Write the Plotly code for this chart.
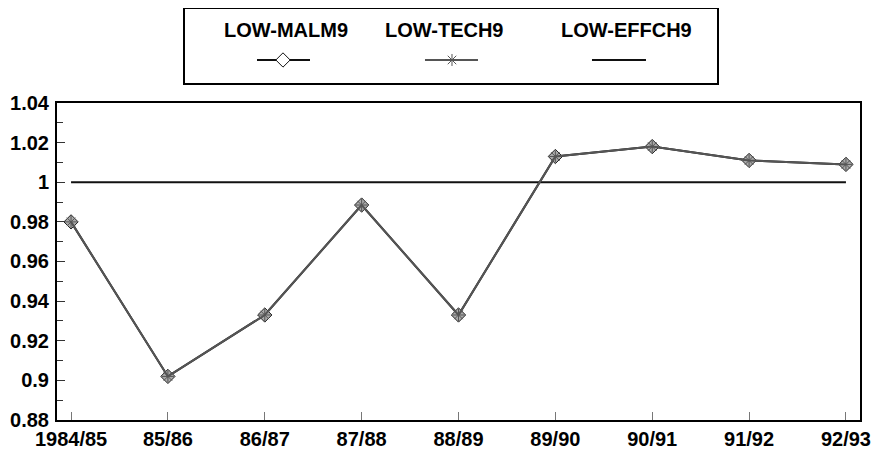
import plotly.graph_objects as go

categories = ["1984/85", "85/86", "86/87", "87/88", "88/89", "89/90", "90/91", "91/92", "92/93"]
low_malm9 = [0.980, 0.902, 0.933, 0.9885, 0.933, 1.013, 1.018, 1.011, 1.009]
low_tech9 = [0.980, 0.902, 0.933, 0.9885, 0.933, 1.013, 1.018, 1.011, 1.009]
low_effch9 = [1, 1, 1, 1, 1, 1, 1, 1, 1]
series_names = ["LOW-MALM9", "LOW-TECH9", "LOW-EFFCH9"]

FONT = "Liberation Sans, Arial, sans-serif"
xi = list(range(len(categories)))

fig = go.Figure()
fig.add_trace(go.Scatter(x=xi, y=low_effch9, mode="lines", line=dict(color="#111", width=2),
                         name=series_names[2], showlegend=False))
fig.add_trace(go.Scatter(x=xi, y=low_malm9, mode="lines+markers", line=dict(color="#111", width=2),
                         marker=dict(symbol="diamond", size=11, color="#aaa",
                                     line=dict(color="#222", width=1)),
                         name=series_names[0], showlegend=False))
fig.add_trace(go.Scatter(x=xi, y=low_tech9, mode="lines+markers", line=dict(color="#555", width=2),
                         marker=dict(symbol="asterisk-open", size=10, color="#555",
                                     line=dict(color="#555", width=1)),
                         name=series_names[1], showlegend=False))

# custom legend in its own small subplot (text above line samples); coordinates in page pixels
leg_text_x = [286, 444, 627]
for i, name in enumerate(series_names):
    fig.add_annotation(x=leg_text_x[i], y=30, xref="x2", yref="y2", text=name, showarrow=False,
                       font=dict(family=FONT, size=20, color="black", weight="bold"))
fig.add_trace(go.Scatter(x=[257, 310], y=[60, 60], xaxis="x2", yaxis="y2", mode="lines",
                         line=dict(color="#111", width=2), showlegend=False, hoverinfo="skip"))
fig.add_trace(go.Scatter(x=[283], y=[60], xaxis="x2", yaxis="y2", mode="markers",
                         marker=dict(symbol="diamond", size=11, color="white",
                                     line=dict(color="#111", width=1)),
                         showlegend=False, hoverinfo="skip"))
fig.add_trace(go.Scatter(x=[425, 478], y=[60, 60], xaxis="x2", yaxis="y2", mode="lines",
                         line=dict(color="#555", width=2), showlegend=False, hoverinfo="skip"))
fig.add_trace(go.Scatter(x=[452], y=[60], xaxis="x2", yaxis="y2", mode="markers",
                         marker=dict(symbol="asterisk-open", size=10, color="#555",
                                     line=dict(color="#555", width=1)),
                         showlegend=False, hoverinfo="skip"))
fig.add_trace(go.Scatter(x=[592, 646], y=[60, 60], xaxis="x2", yaxis="y2", mode="lines",
                         line=dict(color="#111", width=2), showlegend=False, hoverinfo="skip"))

# page body has an 8px margin, so the figure is 876x445 placed at (8,8)
fig.update_layout(
    width=876, height=445,
    margin=dict(l=49, r=24, t=1, b=33),
    paper_bgcolor="white", plot_bgcolor="white",
    font=dict(family=FONT, size=20, color="black"),
    showlegend=False,
    xaxis=dict(
        range=[-0.145, 8.145], tickmode="array", tickvals=xi, ticktext=categories,
        ticks="inside", ticklen=8, tickcolor="#777", tickwidth=1,
        showline=True, linecolor="black", linewidth=2, mirror=True,
        showgrid=False, zeroline=False, automargin=False,
        tickfont=dict(family=FONT, size=20, color="black", weight="bold"),
        domain=[0, 1], anchor="y",
    ),
    yaxis=dict(
        range=[0.88, 1.04], tickmode="array",
        tickvals=[0.88, 0.9, 0.92, 0.94, 0.96, 0.98, 1.0, 1.02, 1.04],
        ticktext=["0.88", "0.9", "0.92", "0.94", "0.96", "0.98", "1", "1.02", "1.04"],
        ticks="inside", ticklen=8, tickcolor="#333", tickwidth=1,
        minor=dict(ticks="inside", ticklen=6, tickcolor="#333", dtick=0.01, tick0=0.88, showgrid=False),
        showline=True, linecolor="black", linewidth=2, mirror=True,
        showgrid=False, zeroline=False, automargin=False,
        tickfont=dict(family=FONT, size=20, color="black", weight="bold"),
        domain=[0, 0.7713], anchor="x", ticklabelstandoff=2,
    ),
    xaxis2=dict(
        range=[185, 717], domain=[0.1594, 0.8219], anchor="y2", automargin=False,
        showline=True, linecolor="black", linewidth=2, mirror=True,
        showticklabels=False, ticks="", showgrid=False, zeroline=False, fixedrange=True,
    ),
    yaxis2=dict(
        range=[83, 9], domain=[0.820, 1.0], anchor="x2", automargin=False,
        showline=True, linecolor="black", linewidth=2, mirror=True,
        showticklabels=False, ticks="", showgrid=False, zeroline=False, fixedrange=True,
    ),
)

fig.write_html("out.html")
